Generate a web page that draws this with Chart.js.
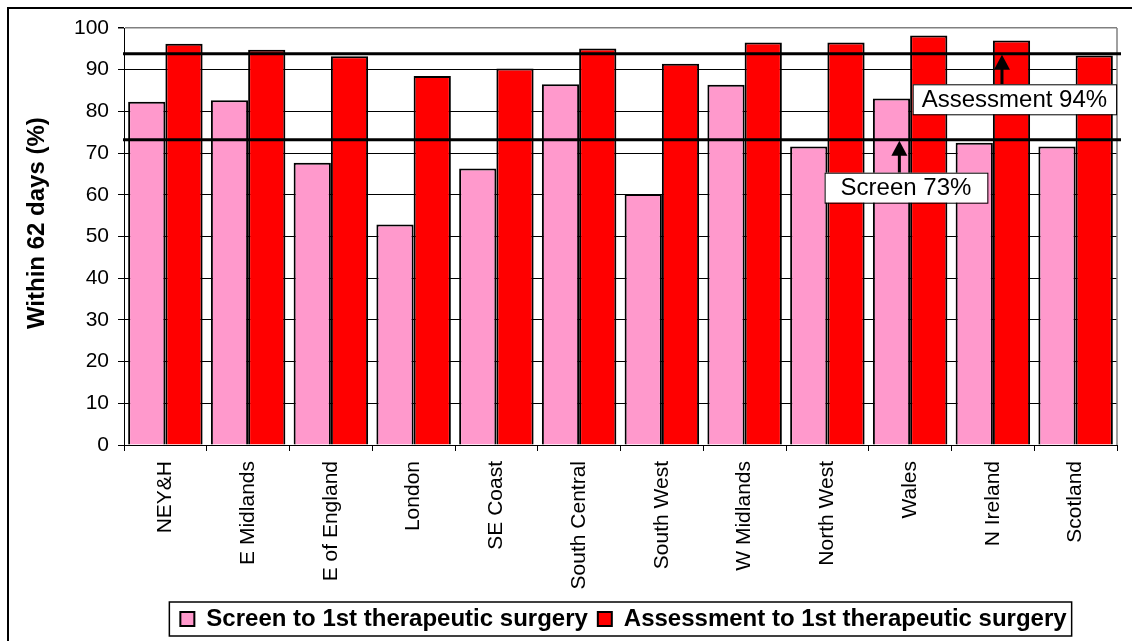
<!DOCTYPE html>
<html>
<head>
<meta charset="utf-8">
<script src="https://cdn.jsdelivr.net/npm/chart.js@4"></script>
<style>
    body { margin: 0; background: #fff; }
    #wrap { width: 1132px; height: 641px; }
</style>
</head>
<body>
<div id="wrap"><canvas id="chart" width="1132" height="641"></canvas></div>
<script>
// chart values
var categories = ['NEY&H', 'E Midlands', 'E of England', 'London', 'SE Coast', 'South Central',
    'South West', 'W Midlands', 'North West', 'Wales', 'N Ireland', 'Scotland'];
var screenValues = [82.3, 82.7, 67.7, 52.9, 66.3, 86.5, 60.2, 86.4, 71.6, 83.1, 72.5, 71.6];
var assessmentValues = [96.2, 94.8, 93.2, 88.5, 90.3, 95.1, 91.4, 96.5, 96.5, 98.2, 97.0, 93.4];
var yTicks = [0, 10, 20, 30, 40, 50, 60, 70, 80, 90, 100];
var targetValues = [93.8, 73.2];
var targetLabels = ['Assessment 94%', 'Screen 73%'];

let fontFamily = "'Liberation Sans', Arial, sans-serif";

// where the callout boxes sit (category index / value units)
let callouts = [
    { arrowAt: 10.11, boxAt: 10.26, boxTop: 86.5, padX: 9 },
    { arrowAt: 8.87, boxAt: 8.95, boxTop: 65.3, padX: 16 }
];

let overlay = {
    id: 'overlay',
    afterLayout: function (chart) {
        // centre legend under the plot area
        let lg = chart.legend;
        let ca = chart.chartArea;
        let shift = (ca.left + ca.right) / 2 - (lg.left + lg.right) / 2 + 3;
        lg.left += shift;
        lg.right += shift;
    },
    beforeDraw: function (chart) {
        let ctx = chart.ctx;
        ctx.save();
        ctx.fillStyle = '#fff';
        ctx.fillRect(0, 0, chart.width, chart.height);
        ctx.restore();
    },
    afterDatasetsDraw: function (chart) {
        let ctx = chart.ctx;
        let ca = chart.chartArea;
        let x = chart.scales.x;
        let y = chart.scales.y;
        ctx.save();

        // right edge of plot area
        ctx.strokeStyle = '#808080';
        ctx.lineWidth = 1.5;
        ctx.beginPath();
        ctx.moveTo(ca.right, ca.top);
        ctx.lineTo(ca.right, ca.bottom);
        ctx.stroke();

        // target lines
        ctx.strokeStyle = '#000';
        ctx.lineWidth = 3;
        for (let v of targetValues) {
            let py = y.getPixelForValue(v);
            ctx.beginPath();
            ctx.moveTo(ca.left - 1, py);
            ctx.lineTo(ca.right + 4, py);
            ctx.stroke();
        }

        // callouts with arrows
        ctx.font = '24px ' + fontFamily;
        ctx.textAlign = 'center';
        ctx.textBaseline = 'middle';
        for (let i = 0; i < callouts.length; i++) {
            let c = callouts[i];
            let lineY = y.getPixelForValue(targetValues[i]);
            let ax = x.getPixelForValue(c.arrowAt);
            let bx = x.getPixelForValue(c.boxAt);
            let top = y.getPixelForValue(c.boxTop);
            let tw = ctx.measureText(targetLabels[i]).width;
            let bw = tw + c.padX * 2;
            let bh = 30;

            ctx.fillStyle = '#000';
            ctx.fillRect(ax - 1.5, lineY + 14, 3, top - lineY - 14);
            ctx.beginPath();
            ctx.moveTo(ax, lineY + 1);
            ctx.lineTo(ax - 8, lineY + 16);
            ctx.lineTo(ax + 8, lineY + 16);
            ctx.closePath();
            ctx.fill();

            ctx.fillStyle = '#fff';
            ctx.fillRect(bx - bw / 2, top, bw, bh);
            ctx.strokeStyle = '#000';
            ctx.lineWidth = 1;
            ctx.strokeRect(bx - bw / 2 + 0.5, top + 0.5, bw, bh);
            ctx.fillStyle = '#000';
            ctx.fillText(targetLabels[i], bx, top + bh / 2 + 1);
        }
        ctx.restore();
    },
    afterDraw: function (chart) {
        let ctx = chart.ctx;
        ctx.save();
        ctx.strokeStyle = '#000';

        // box around legend
        let boxes = chart.legend.legendHitBoxes;
        if (boxes && boxes.length) {
            let l = Math.min.apply(null, boxes.map(b => b.left)) - 11;
            let r = Math.max.apply(null, boxes.map(b => b.left + b.width)) + 5;
            let t = boxes[0].top - 5;
            let b = boxes[0].top + boxes[0].height + 5;
            ctx.lineWidth = 1.5;
            ctx.strokeRect(l, t, r - l, b - t);
        }

        // outer frame
        ctx.lineWidth = 2;
        ctx.beginPath();
        ctx.moveTo(8, chart.height);
        ctx.lineTo(8, 8);
        ctx.lineTo(chart.width, 8);
        ctx.stroke();
        ctx.restore();
    }
};

let ctx = document.getElementById('chart');
new Chart(ctx, {
    type: 'bar',
    data: {
        labels: categories,
        datasets: [{
            label: 'Screen to 1st therapeutic surgery',
            data: screenValues,
            backgroundColor: '#FF99CC',
            borderColor: '#000',
            borderWidth: 2
        }, {
            label: 'Assessment to 1st therapeutic surgery',
            data: assessmentValues,
            backgroundColor: '#FF0000',
            borderColor: '#000',
            borderWidth: 2
        }]
    },
    options: {
        responsive: false,
        animation: false,
        events: [],
        layout: { padding: { left: 0, top: 28, right: 15, bottom: 0 } },
        datasets: {
            bar: { categoryPercentage: 0.9, barPercentage: 1.0 }
        },
        scales: {
            x: {
                grid: {
                    offset: true,
                    drawOnChartArea: false,
                    drawTicks: true,
                    tickLength: 6,
                    color: '#000'
                },
                border: { display: true, color: '#000', width: 1 },
                ticks: {
                    font: { family: fontFamily, size: 21 },
                    color: '#000',
                    minRotation: 90,
                    maxRotation: 90,
                    padding: 10,
                    autoSkip: false
                },
                afterFit: function (scale) { scale.height = 152; }
            },
            y: {
                min: 0,
                max: 100,
                afterBuildTicks: function (scale) {
                    scale.ticks = yTicks.map(v => ({ value: v }));
                },
                grid: {
                    color: function (c) { return c.tick && c.tick.value === 100 ? '#808080' : '#000'; },
                    lineWidth: function (c) { return c.tick && c.tick.value === 100 ? 1.5 : 1; },
                    tickColor: '#000',
                    tickLength: 6
                },
                border: { display: true, color: '#000', width: 1 },
                ticks: {
                    font: { family: fontFamily, size: 21 },
                    color: '#000',
                    padding: 9
                },
                title: {
                    display: true,
                    text: '    Within 62 days (%)',
                    color: '#000',
                    font: { family: fontFamily, size: 24, weight: 'bold' },
                    padding: { top: 23, bottom: 0 }
                },
                afterFit: function (scale) { scale.width = 124; }
            }
        },
        plugins: {
            legend: {
                position: 'bottom',
                labels: {
                    font: { family: fontFamily, size: 24, weight: 'bold' },
                    color: '#000',
                    boxWidth: 14,
                    boxHeight: 14,
                    padding: 10
                }
            },
            tooltip: { enabled: false }
        }
    },
    plugins: [overlay]
});
</script>
</body>
</html>
